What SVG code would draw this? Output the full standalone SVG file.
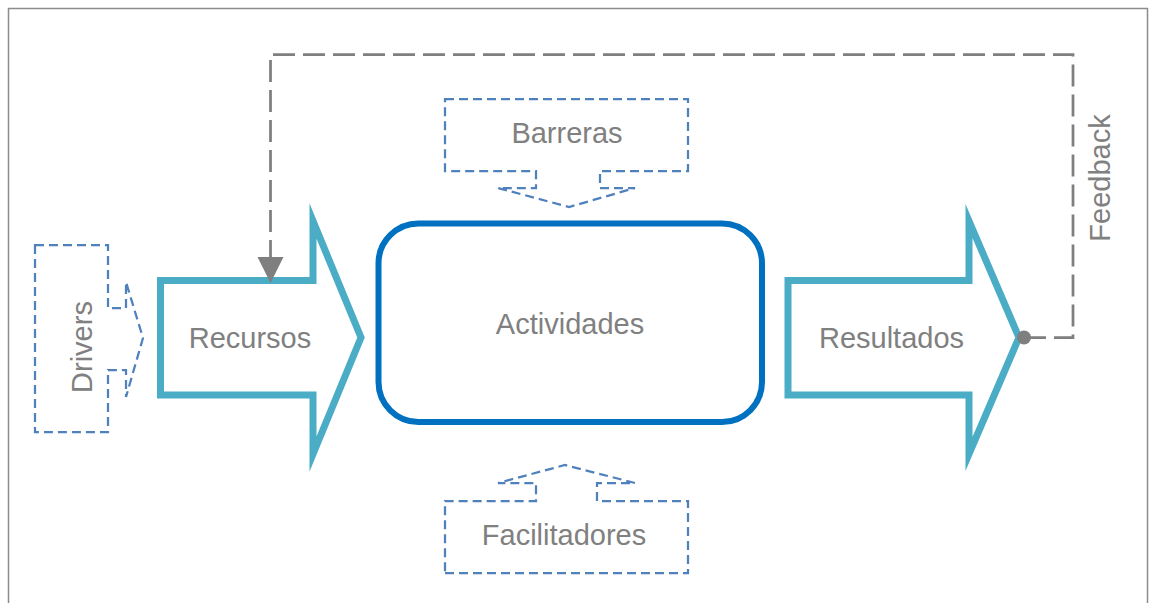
<svg xmlns="http://www.w3.org/2000/svg" width="1149" height="603" viewBox="0 0 1149 603">
<style>
.lbl{font-family:"Liberation Sans",Arial,sans-serif;font-size:29px;fill:#808080;text-anchor:middle}
.arrow{fill:#fff;stroke:#4BACC6;stroke-width:7;stroke-miterlimit:10}
.callout{fill:#fff;stroke:#4F81BD;stroke-width:2.25;stroke-dasharray:9 5}
.fb{fill:none;stroke:#7F7F7F;stroke-width:2.75;stroke-dasharray:22 8}
</style>
<rect x="0" y="0" width="1149" height="603" fill="#fff"/>
<rect x="8.5" y="8.5" width="1139" height="620" fill="none" stroke="#8c8c8c" stroke-width="1.5"/>
<g id="drivers">
<path class="callout" d="M35,245 H108 V308 H126 V282 L143,338 L126,397 V370 H108 V432 H35 Z"/>
<text class="lbl" transform="translate(92,347) rotate(-90)">Drivers</text>
</g>
<g id="barreras">
<path class="callout" d="M445,99 H688 V171 H600 V188 H635 L569,207 L498,188 H536 V171 H445 Z"/>
<text class="lbl" x="567" y="143">Barreras</text>
</g>
<g id="facilitadores">
<path class="callout" d="M445,573 H688 V501 H597 V483 H635 L565,465 L498,483 H536 V501 H445 Z"/>
<text class="lbl" x="564" y="545">Facilitadores</text>
</g>
<g id="recursos">
<path class="arrow" d="M160.5,280.5 H313 V221 L361,337.5 L313,454 V395 H160.5 Z"/>
<text class="lbl" x="250" y="348">Recursos</text>
</g>
<g id="actividades">
<rect x="378.5" y="223.5" width="383.5" height="198.5" rx="40" ry="40" fill="#fff" stroke="#0070C0" stroke-width="6"/>
<text class="lbl" x="570" y="334">Actividades</text>
</g>
<g id="resultados">
<path class="arrow" d="M788,280.5 H969 V221 L1019,337.5 L969,454 V395 H788 Z"/>
<text class="lbl" x="891.5" y="348">Resultados</text>
</g>
<g id="connectors">
<path class="fb" d="M1024,337.5 H1073 V54.5 H270.5 V258"/>
<polygon points="257.5,257 283.5,257 270.5,283" fill="#7F7F7F"/>
<circle cx="1024" cy="337.5" r="7" fill="#7F7F7F"/>
<text class="lbl" transform="translate(1110,178) rotate(-90)">Feedback</text>
</g>
</svg>
